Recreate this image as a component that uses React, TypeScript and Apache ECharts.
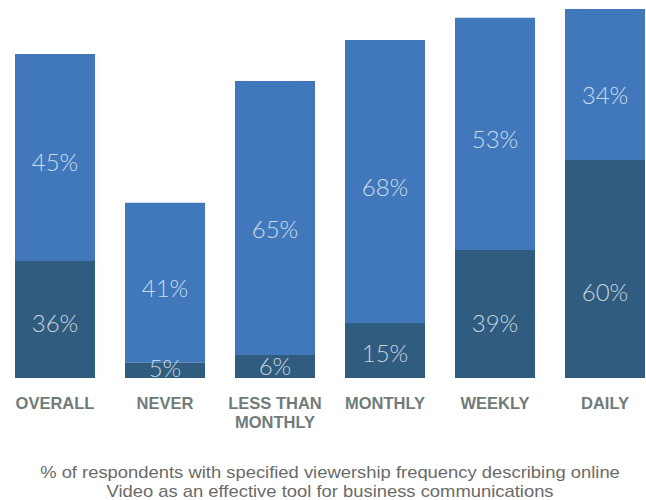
import React, { useEffect, useRef } from "react";
import * as echarts from "echarts";

const categories = ["OVERALL", "NEVER", "LESS THAN\nMONTHLY", "MONTHLY", "WEEKLY", "DAILY"];
// bar heights as drawn (share of axis height)
const darkHeights = [31.7, 4.1, 6.2, 14.9, 34.7, 59.1];
const lightHeights = [56.1, 43.4, 74.3, 76.7, 62.9, 40.9];
// printed labels
const darkLabels = ["36%", "5%", "6%", "15%", "39%", "60%"];
const lightLabels = ["45%", "41%", "65%", "68%", "53%", "34%"];
const captionLines = [
  "% of respondents with specified viewership frequency describing online",
  "Video as an effective tool for business communications",
];

const labelStyle = {
  show: true,
  position: "inside" as const,
  color: "rgba(255,255,255,0.74)",
  fontSize: 24,
  fontWeight: 300,
  fontFamily: "Lato, Roboto, sans-serif",
};

export default function App() {
  const ref = useRef<HTMLDivElement>(null);
  useEffect(() => {
    // vertical nudges of the value labels, as placed in the original artwork
    const darkNudge = [3, -3, -1, 2, 8.5, 22.5];
    const lightNudge = [4, 4.5, 10.5, 5, 4.5, 10];
    const chart = echarts.init(ref.current!, null, { renderer: "svg" });
    chart.setOption({
      animation: false,
      grid: { left: 0, top: 9, width: 660, height: 369, outerBoundsMode: "none", containLabel: false },
      xAxis: {
        type: "category",
        data: categories,
        axisLine: { show: false },
        axisTick: { show: false },
        axisLabel: {
          margin: 15,
          color: "#6f7b7b",
          fontSize: 16.5,
          fontWeight: "bold",
          fontFamily: "'Liberation Sans', Arial, sans-serif",
          lineHeight: 19,
          interval: 0,
        },
      },
      yAxis: { type: "value", min: 0, max: 100, show: false, splitLine: { show: false } },
      series: [
        {
          type: "bar",
          stack: "a",
          z: 3,
          clip: false,
          data: darkHeights.map((v, i) => ({ value: v, label: { offset: [0, darkNudge[i]] } })),
          barWidth: 80,
          itemStyle: { color: "#305c80" },
          label: { ...labelStyle, formatter: (p: any) => darkLabels[p.dataIndex] },
        },
        {
          type: "bar",
          stack: "a",
          z: 2,
          clip: false,
          data: lightHeights.map((v, i) => ({ value: v, label: { offset: [0, lightNudge[i]] } })),
          barWidth: 80,
          itemStyle: { color: "#4178bc" },
          label: { ...labelStyle, formatter: (p: any) => lightLabels[p.dataIndex] },
        },
      ],
      graphic: captionLines.map((t, i) => ({
        type: "text",
        x: 330,
        y: 472 + i * 19,
        scaleX: 1.15,
        style: {
          text: t,
          textAlign: "center",
          textVerticalAlign: "middle",
          fill: "#6a6a6a",
          fontSize: 16,
          fontFamily: "'Liberation Sans', Arial, sans-serif",
        },
      })),
    });
    return () => chart.dispose();
  }, []);
  return (
    <div
      ref={ref}
      style={{ position: "fixed", left: 0, top: 0, width: 646, height: 500, background: "#fff" }}
    />
  );
}
